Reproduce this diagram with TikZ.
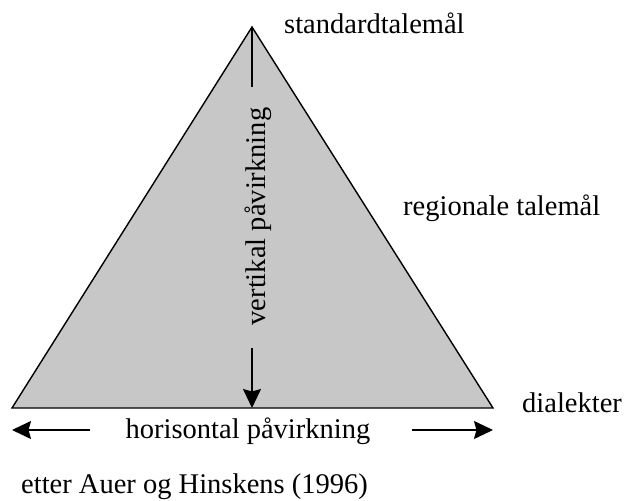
\documentclass[tikz,border=0pt]{standalone}
\usepackage{fontspec}
\setmainfont{Liberation Serif}
\usetikzlibrary{arrows.meta}

\tikzset{
	lbl/.style={inner sep=0pt,font=\fontsize{28.5}{34}\selectfont},
	pil/.style={-{Stealth[length=19pt,width=18pt,inset=2.5pt]},line width=1.5pt}
}

\begin{document}
\begin{tikzpicture}[x=1pt,y=-1pt]
				\useasboundingbox (0,0) rectangle (625,501);
				
				\coordinate (topp) at (252,27);
				\coordinate (vbunn) at (12,408);
				\coordinate (hbunn) at (493,408);
				\coordinate (midt) at (252,408);
				
				\draw[fill=black!22,line width=1.4pt,line join=miter] (topp)--(vbunn)--(hbunn)--cycle;
				
				% vertikal
				\node[lbl,rotate=90,anchor=base] (vert) at (265,216.5){vertikal påvirkning};
				\coordinate (vstopp) at (252,87);
				\coordinate (vstart) at (252,348);
				\draw[line width=1.4pt] (topp)--(vstopp);
				\draw[pil] (vstart)--(midt);
				
				% horisontal
				\node[lbl,anchor=base] (hor) at (248,438){horisontal påvirkning};
				\coordinate (vpil) at (12,430);
				\coordinate (vstart2) at (90,430);
				\coordinate (hstart) at (412,430);
				\coordinate (hpil) at (493,430);
				\draw[pil] (vstart2)--(vpil);
				\draw[pil] (hstart)--(hpil);
				
				\node[lbl,anchor=base west] (std) at (284,33){standardtalemål};
				\node[lbl,anchor=base west] (reg) at (403,215){regionale talemål};
				\node[lbl,anchor=base west] (dia) at (522,412){dialekter};
				\node[lbl,anchor=base west] (kilde) at (21,493){etter Auer og Hinskens (1996)};
\end{tikzpicture}
\end{document}
